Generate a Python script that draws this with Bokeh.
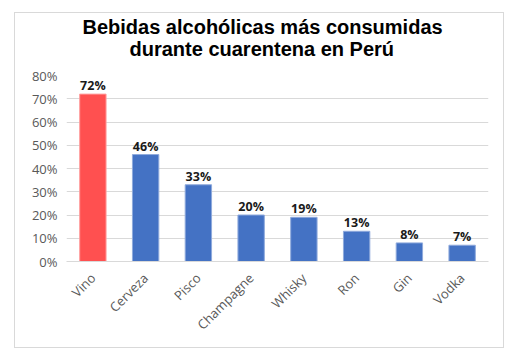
from bokeh.plotting import figure
from bokeh.models import ColumnDataSource, Range1d, FixedTicker, PrintfTickFormatter, LabelSet, Title
from bokeh.core.properties import value
from bokeh.embed import file_html
from bokeh.resources import INLINE
import math

title_lines = ["Bebidas alcohólicas más consumidas", "durante cuarentena en Perú"]
categories = ["Vino", "Cerveza", "Pisco", "Champagne", "Whisky", "Ron", "Gin", "Vodka"]
values = [72, 46, 33, 20, 19, 13, 8, 7]
y_ticks = [0, 10, 20, 30, 40, 50, 60, 70, 80]
highlight = "Vino"

fills = ["#FF5050" if c == highlight else "#4472C4" for c in categories]
edges = ["#FF9E9E" if c == highlight else "#8FAADC" for c in categories]
labels = [f"{v}%" for v in values]

src = ColumnDataSource(dict(cat=categories, val=values, fill=fills, edge=edges, lab=labels))

p = figure(width=490, height=336, x_range=categories, y_range=Range1d(0, 80),
           output_backend="svg", toolbar_location=None,
           min_border_left=51, min_border_right=17, min_border_top=62, min_border_bottom=88,
           margin=(12, 0, 0, 14), styles={"border": "1px solid #d9d9d9"})
p.outline_line_color = None
p.background_fill_color = "white"
p.border_fill_color = "white"

p.vbar(x="cat", top="val", width=0.5, source=src, fill_color="fill", line_color="edge", line_width=1)

p.add_layout(LabelSet(x="cat", y="val", text="lab", source=src, y_offset=4,
                      text_align="center", text_baseline="alphabetic",
                      text_font=value("Open Sans"), text_font_style="bold", text_font_size="12.5px",
                      text_color="#1a1a1a"))

# two-line title (second line added first: closest to the plot)
p.add_layout(Title(text=title_lines[1], align="left", offset=63, standoff=32,
                   text_font="Liberation Sans", text_font_style="bold", text_font_size="20px",
                   text_color="#000000"), "above")
p.add_layout(Title(text=title_lines[0], align="left", offset=16, standoff=-36,
                   text_font="Liberation Sans", text_font_style="bold", text_font_size="20px",
                   text_color="#000000"), "above")

p.xgrid.grid_line_color = None
p.ygrid.grid_line_color = "#d9d9d9"
p.ygrid.grid_line_width = 1

p.yaxis.ticker = FixedTicker(ticks=y_ticks)
p.yaxis.formatter = PrintfTickFormatter(format="%d%%")
p.yaxis.axis_line_color = None
p.yaxis.major_tick_line_color = None
p.yaxis.minor_tick_line_color = None
p.yaxis.major_tick_out = 0
p.yaxis.major_label_standoff = 9
p.yaxis.major_label_text_font = "Open Sans"
p.yaxis.major_label_text_font_size = "13px"
p.yaxis.major_label_text_color = "#595959"

p.xaxis.axis_line_color = "#d9d9d9"
p.xaxis.major_tick_line_color = None
p.xaxis.minor_tick_line_color = None
p.xaxis.major_tick_out = 0
p.xaxis.major_label_orientation = math.pi / 4
p.xaxis.major_label_standoff = 14
p.xaxis.major_label_text_font = "Open Sans"
p.xaxis.major_label_text_font_size = "13px"
p.xaxis.major_label_text_color = "#595959"

open("out.html", "w").write(file_html(p, INLINE))
